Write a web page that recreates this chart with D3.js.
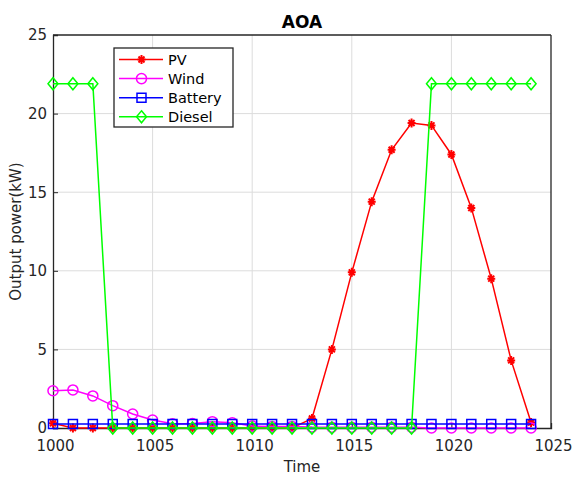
<!DOCTYPE html>
<html>
<head>
<meta charset="utf-8">
<script src="https://cdn.jsdelivr.net/npm/d3@7"></script>
<style>
  html, body { margin: 0; padding: 0; background: #fff; }
  svg { display: block; font-family: "DejaVu Sans", Verdana, sans-serif; }
</style>
</head>
<body>
<svg id="chart" width="578" height="477"></svg>
<script>
// Hourly output of each source, hours 1000–1024
const hours = d3.range(1000, 1025);
const pv      = [0.3, 0, 0, 0, 0, 0, 0, 0, 0, 0, 0, 0, 0, 0.6, 5.0, 9.9, 14.4, 17.7, 19.4, 19.25, 17.4, 14.0, 9.5, 4.3, 0.35];
const wind    = [2.37, 2.42, 2.04, 1.42, 0.89, 0.51, 0.27, 0.28, 0.4, 0.33, 0.12, 0.1, 0.1, 0.06, 0.05, 0.05, 0.05, 0.05, 0.05, 0, 0, 0, 0, 0, 0];
const battery = [0.25, 0.25, 0.25, 0.25, 0.25, 0.25, 0.25, 0.25, 0.25, 0.25, 0.25, 0.25, 0.25, 0.25, 0.25, 0.25, 0.25, 0.25, 0.25, 0.25, 0.25, 0.25, 0.25, 0.25, 0.25];
const diesel  = [21.9, 21.9, 21.9, 0, 0, 0, 0, 0, 0, 0, 0, 0, 0, 0, 0, 0, 0, 0, 0, 21.9, 21.9, 21.9, 21.9, 21.9, 21.9];

const xTicks = [1000, 1005, 1010, 1015, 1020, 1025];
const yTicks = [0, 5, 10, 15, 20, 25];

const seriesNames = ["PV", "Wind", "Battery", "Diesel"];
const seriesColors = ["#ff0000", "#ff00ff", "#0000ff", "#00ff00"];
const seriesMarkers = ["star", "circle", "square", "diamond"];
const seriesValues = [pv, wind, battery, diesel];

const svg = d3.select("#chart");
const m = { left: 53, right: 551, top: 35, bottom: 428 };

const x = d3.scaleLinear().domain([1000, 1025]).range([m.left, m.right]);
const y = d3.scaleLinear().domain([0, 25]).range([m.bottom, m.top]);

const axisColor = "#262626";

// grid
const grid = svg.append("g");
grid.selectAll("line.vx").data(xTicks.slice(1, -1)).join("line")
  .attr("x1", d => x(d)).attr("x2", d => x(d))
  .attr("y1", m.top).attr("y2", m.bottom)
  .attr("stroke", "#dcdcdc").attr("stroke-width", 1);
grid.selectAll("line.hy").data(yTicks.slice(1, -1)).join("line")
  .attr("x1", m.left).attr("x2", m.right)
  .attr("y1", d => y(d)).attr("y2", d => y(d))
  .attr("stroke", "#dcdcdc").attr("stroke-width", 1);

// axes
const xAxis = d3.axisBottom(x).tickValues(xTicks).tickSize(-5).tickPadding(12).tickFormat(d3.format("d"));
const yAxis = d3.axisLeft(y).tickValues(yTicks).tickSize(-5).tickPadding(6);

const gx = svg.append("g").attr("transform", `translate(0,${m.bottom})`).call(xAxis);
const gy = svg.append("g").attr("transform", `translate(${m.left},0)`).call(yAxis);
[gx, gy].forEach(g => {
  g.select(".domain").attr("stroke", axisColor).attr("stroke-width", 1.3);
  g.selectAll(".tick line").attr("stroke", axisColor);
  g.selectAll(".tick text").attr("fill", axisColor)
    .style("font-family", "DejaVu Sans, Verdana, sans-serif").style("font-size", "15px");
});
gx.selectAll(".tick text").attr("dx", 2);

// box top/right
svg.append("line").attr("x1", m.left).attr("x2", m.right).attr("y1", m.top).attr("y2", m.top)
  .attr("stroke", axisColor).attr("stroke-width", 1.3);
svg.append("line").attr("x1", m.right).attr("x2", m.right).attr("y1", m.top).attr("y2", m.bottom)
  .attr("stroke", axisColor).attr("stroke-width", 1.3);

// marker shapes
function markerPath(type) {
  switch (type) {
    case "circle": return d3.symbol(d3.symbolCircle, 80)();
    case "square": return "M-4.5,-4.5H4.5V4.5H-4.5Z";
    case "diamond": return "M0,-6L5,0L0,6L-5,0Z";
    case "star": return "M-4,0H4M0,-4.5V4.5M-3,-3L3,3M-3,3L3,-3";
  }
}

// series
const line = d3.line().x((d, i) => x(hours[i])).y(d => y(d));
seriesValues.forEach((vals, k) => {
  const g = svg.append("g");
  g.append("path").datum(vals).attr("d", line)
    .attr("fill", "none").attr("stroke", seriesColors[k]).attr("stroke-width", 1.5);
  g.selectAll("path.mk").data(vals).join("path").attr("class", "mk")
    .attr("transform", (d, i) => `translate(${x(hours[i])},${y(d)})`)
    .attr("d", markerPath(seriesMarkers[k]))
    .attr("fill", "none").attr("stroke", seriesColors[k])
    .attr("stroke-width", seriesMarkers[k] === "star" ? 2 : 1.5);
});

// title and axis labels
svg.append("text").attr("x", (m.left + m.right) / 2).attr("y", 28)
  .attr("text-anchor", "middle").attr("font-weight", "bold").attr("font-size", 17)
  .attr("fill", "#000").text("AOA");
svg.append("text").attr("x", (m.left + m.right) / 2).attr("y", 472)
  .attr("text-anchor", "middle").attr("font-size", 15).attr("fill", axisColor).text("Time");
svg.append("text").attr("transform", `translate(21,${(m.top + m.bottom) / 2}) rotate(-90)`)
  .attr("text-anchor", "middle").attr("font-size", 15).attr("fill", axisColor).text("Output power(kW)");

// legend
const lg = svg.append("g");
lg.append("rect").attr("x", 114).attr("y", 48).attr("width", 119).attr("height", 79)
  .attr("fill", "#fff").attr("stroke", axisColor).attr("stroke-width", 1.3);
seriesNames.forEach((name, k) => {
  const cy = 59.5 + k * 19.1;
  lg.append("line").attr("x1", 119).attr("x2", 163).attr("y1", cy).attr("y2", cy)
    .attr("stroke", seriesColors[k]).attr("stroke-width", 1.5);
  lg.append("path").attr("transform", `translate(141.5,${cy})`).attr("d", markerPath(seriesMarkers[k]))
    .attr("fill", "none").attr("stroke", seriesColors[k])
    .attr("stroke-width", seriesMarkers[k] === "star" ? 2 : 1.5);
  lg.append("text").attr("x", 168).attr("y", cy + 5).attr("font-size", 14.5)
    .attr("fill", "#000").text(name);
});
</script>
</body>
</html>
